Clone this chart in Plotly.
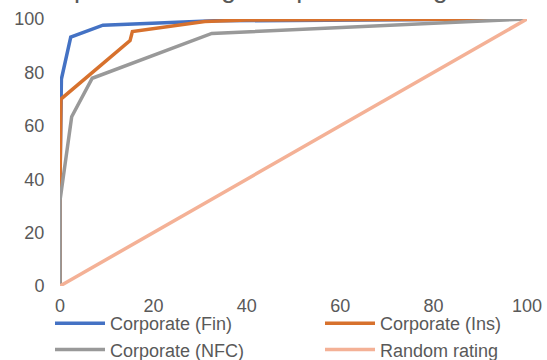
import plotly.graph_objects as go

# Data (percent of obligors vs percent of defaults)
fin_x = [0, 0, 0.3, 2.3, 9.2, 33, 100]
fin_y = [0, 40, 77.5, 93.2, 97.7, 99.3, 100]

ins_x = [0, 0, 0.2, 15, 15.5, 31, 40, 100]
ins_y = [0, 35, 70, 91.9, 95.3, 99.1, 99.6, 100]

nfc_x = [0, 0, 2.5, 6.9, 32.5, 100]
nfc_y = [0, 32, 63.4, 77.8, 94.6, 100]

rnd_x = [0, 100]
rnd_y = [0, 100]

names = ["Corporate (Fin)", "Corporate (Ins)", "Corporate (NFC)", "Random rating"]
colors = ["#4472C4", "#D7712D", "#999999", "#F4B196"]
legend_ids = ["legend", "legend2", "legend", "legend2"]
tick_vals = [0, 20, 40, 60, 80, 100]

fig = go.Figure()
for xs, ys, nm, c, lg in zip([fin_x, ins_x, nfc_x, rnd_x], [fin_y, ins_y, nfc_y, rnd_y],
                             names, colors, legend_ids):
    fig.add_trace(go.Scatter(x=xs, y=ys, mode="lines", name=nm, legend=lg,
                             line=dict(color=c, width=3.5), cliponaxis=False))

font_main = "Liberation Sans, Arial, sans-serif"
legend_common = dict(orientation="v", xanchor="left", xref="container",
                     yanchor="top", yref="container", y=1 - 305 / 360,
                     itemwidth=50,
                     font=dict(family=font_main, size=18, color="#595959"),
                     bgcolor="rgba(0,0,0,0)")
fig.update_layout(
    width=547, height=360,
    margin=dict(l=60, r=20, t=19, b=74, autoexpand=False),
    plot_bgcolor="white", paper_bgcolor="white",
    font=dict(family=font_main, size=18, color="#595959"),
    xaxis=dict(range=[0, 100], tickvals=tick_vals, showgrid=False, zeroline=False,
               showline=False, ticks="outside", ticklen=3, tickcolor="rgba(0,0,0,0)",
               automargin=False),
    yaxis=dict(range=[0, 100], tickvals=tick_vals, showgrid=False, zeroline=False,
               showline=False, ticks="outside", ticklen=11, tickcolor="rgba(0,0,0,0)",
               automargin=False),
    legend=dict(x=50 / 547, **legend_common),
    legend2=dict(x=320 / 547, **legend_common),
    showlegend=True,
)
fig.add_annotation(text="Comparison of high corporate ratings", xref="paper", yref="paper",
                   x=-0.0964, y=1.053, xanchor="left", yanchor="bottom", showarrow=False,
                   font=dict(family=font_main, size=27, color="#595959"))

fig.write_html("out.html", config={"displayModeBar": False},
               post_script="document.body.style.margin='0';document.body.style.padding='0';")
